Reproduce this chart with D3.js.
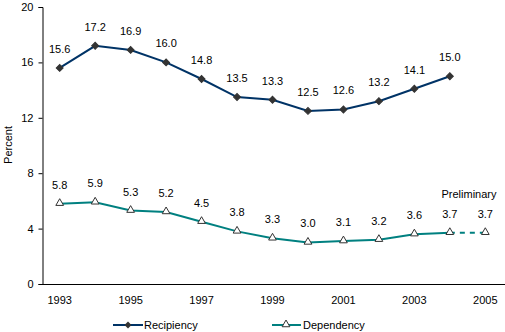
<!DOCTYPE html>
<html>
<head>
<meta charset="utf-8">
<script src="https://d3js.org/d3.v7.min.js"></script>
<style>
body{margin:0;background:#fff;font-family:"Liberation Sans",Arial,sans-serif}
text{font-family:"Liberation Sans",Arial,sans-serif;font-size:11px;fill:#000}
</style>
</head>
<body>
<svg id="chart" width="505" height="332"></svg>
<script>
// years on the x axis
var years = [1993,1994,1995,1996,1997,1998,1999,2000,2001,2002,2003,2004,2005];
var tickYears = [1993,1995,1997,1999,2001,2003,2005];
var recipiency = [15.6,17.2,16.9,16.0,14.8,13.5,13.3,12.5,12.6,13.2,14.1,15.0];
var dependency = [5.8,5.9,5.3,5.2,4.5,3.8,3.3,3.0,3.1,3.2,3.6,3.7];
var dependencyPrelim = 3.7; // 2005
var yTicks = [0,4,8,12,16,20];

var svg = d3.select("#chart");
var x = d3.scalePoint().domain(years).range([59.7, 485.3]);
var y = d3.scaleLinear().domain([0,20]).range([284, 7]);

// axes
var yAxis = svg.append("g").attr("transform","translate(42.5,0)")
  .call(d3.axisLeft(y).tickValues(yTicks).tickSize(4).tickPadding(5).tickFormat(d3.format("d")));
yAxis.select(".domain").attr("stroke","#000");
yAxis.selectAll("text").style("font-size","11px");

svg.append("line").attr("x1",42).attr("x2",505).attr("y1",284.5).attr("y2",284.5).attr("stroke","#000");

svg.selectAll(".xlab").data(tickYears).enter().append("text")
  .attr("x", d => x(d)).attr("y", 304).attr("text-anchor","middle").text(d => d);

svg.append("text").attr("transform","translate(12,145) rotate(-90)")
  .attr("text-anchor","middle").text("Percent");

var line = d3.line().x((d,i) => x(years[i])).y(d => y(d));
var diamond = d3.symbol().type(d3.symbolSquare).size(24);
var tri = d3.symbol().type(d3.symbolTriangle).size(26);

// recipiency
svg.append("path").datum(recipiency).attr("d", line)
  .attr("fill","none").attr("stroke","#003366").attr("stroke-width",2);
svg.selectAll(".rm").data(recipiency).enter().append("path")
  .attr("d", diamond)
  .attr("transform", (d,i) => "translate(" + x(years[i]) + "," + y(d) + ") rotate(45)")
  .attr("fill","#333").attr("stroke","#333");
svg.selectAll(".rl").data(recipiency).enter().append("text")
  .attr("x", (d,i) => x(years[i])).attr("y", d => y(d) - 15)
  .attr("text-anchor","middle").text(d => d.toFixed(1));

// dependency
svg.append("path").datum(dependency).attr("d", line)
  .attr("fill","none").attr("stroke","#008080").attr("stroke-width",2);
svg.append("line")
  .attr("x1", x(2004)).attr("y1", y(dependency[11]))
  .attr("x2", x(2005)).attr("y2", y(dependencyPrelim))
  .attr("stroke","#008080").attr("stroke-width",2).attr("stroke-dasharray","5,5");
var depAll = dependency.concat([dependencyPrelim]);
svg.selectAll(".dm").data(depAll).enter().append("path")
  .attr("d", tri)
  .attr("transform", (d,i) => "translate(" + x(years[i]) + "," + (y(d) - 0.5) + ")")
  .attr("fill","#fff").attr("stroke","#333");
svg.selectAll(".dl").data(depAll).enter().append("text")
  .attr("x", (d,i) => x(years[i])).attr("y", d => y(d) - 15)
  .attr("text-anchor","middle").text(d => d.toFixed(1));
svg.append("text").attr("x", 469).attr("y", 198).attr("text-anchor","middle").text("Preliminary");

// legend
var lg = svg.append("g");
lg.append("line").attr("x1",113).attr("x2",143).attr("y1",325).attr("y2",325).attr("stroke","#003366").attr("stroke-width",2);
lg.append("path").attr("d", diamond).attr("transform","translate(128,325) rotate(45)").attr("fill","#333");
lg.append("text").attr("x",144).attr("y",329).text("Recipiency");
lg.append("line").attr("x1",272).attr("x2",301).attr("y1",325).attr("y2",325).attr("stroke","#008080").attr("stroke-width",2);
lg.append("path").attr("d", tri).attr("transform","translate(286,324.5)").attr("fill","#fff").attr("stroke","#333");
lg.append("text").attr("x",303).attr("y",329).text("Dependency");
</script>
</body>
</html>
